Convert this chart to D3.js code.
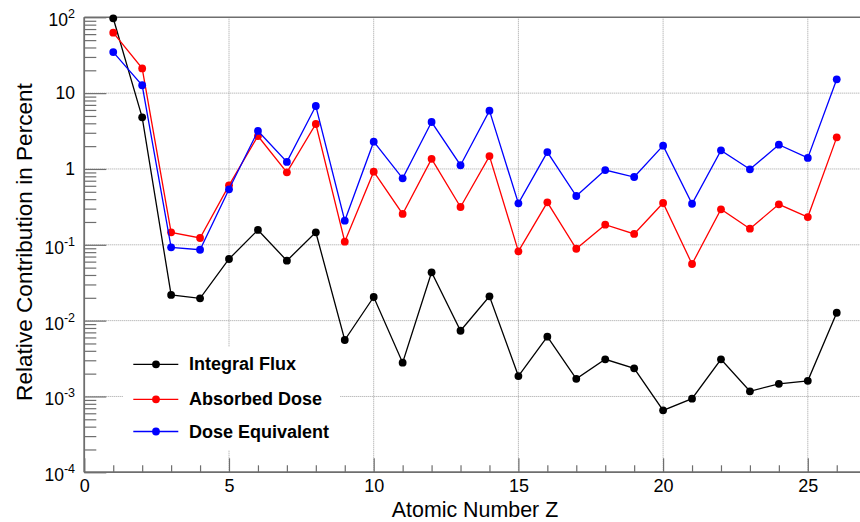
<!DOCTYPE html>
<html>
<head>
<meta charset="utf-8">
<script src="https://cdn.jsdelivr.net/npm/d3@7"></script>
<style>
  html, body { margin: 0; padding: 0; background: #fff; }
  svg { display: block; font-family: "Liberation Sans", Arial, Helvetica, sans-serif; }
</style>
</head>
<body>
<svg id="chart" width="860" height="522"></svg>
<script>
// Atomic number of each element
const atomicNumbers = [1, 2, 3, 4, 5, 6, 7, 8, 9, 10, 11, 12, 13, 14, 15, 16, 17, 18, 19, 20, 21, 22, 23, 24, 25, 26];

// Relative contributions in percent, one value per element
const integralFlux = [97, 4.8, 0.0218, 0.0197, 0.065, 0.157, 0.0617, 0.146, 0.00555, 0.0205,
  0.00279, 0.0434, 0.00736, 0.0209, 0.00186, 0.00614, 0.00171, 0.00309, 0.00235, 0.000656,
  0.000935, 0.00309, 0.00117, 0.00147, 0.00161, 0.0127];
const absorbedDose = [62.7, 21.2, 0.146, 0.123, 0.608, 2.72, 0.903, 3.92, 0.110, 0.920,
  0.255, 1.36, 0.315, 1.48, 0.082, 0.363, 0.0887, 0.184, 0.139, 0.356,
  0.0558, 0.294, 0.163, 0.342, 0.232, 2.61];
const doseEquivalent = [34.8, 12.7, 0.0927, 0.0861, 0.539, 3.17, 1.24, 6.77, 0.208, 2.29,
  0.753, 4.16, 1.12, 5.87, 0.352, 1.67, 0.440, 0.968, 0.783, 2.03,
  0.348, 1.76, 0.99, 2.09, 1.40, 15.2];

const seriesNames = ["Integral Flux", "Absorbed Dose", "Dose Equivalent"];
const seriesColors = ["#000000", "#ff0000", "#0000ff"];

// Axis ticks
const xMajorTicks = [0, 5, 10, 15, 20, 25];
const xMinorTicks = [1, 2, 3, 4, 6, 7, 8, 9, 11, 12, 13, 14, 16, 17, 18, 19, 21, 22, 23, 24, 26];
const yMajorTicks = [1e-4, 1e-3, 1e-2, 1e-1, 1, 10, 100];
const yTickLabels = [["10", "-4"], ["10", "-3"], ["10", "-2"], ["10", "-1"], ["1", ""], ["10", ""], ["10", "2"]];

const svg = d3.select("#chart");
const W = 860, H = 522;
const plotLeft = 84.3, plotTop = 17.3, plotBottom = 472.3;
const unit = 28.94;

const x = d3.scaleLinear().domain([0, 27]).range([plotLeft, plotLeft + 27 * unit]);
const y = d3.scaleLog().domain([1e-4, 1e2]).range([plotBottom, plotTop]);

const yMinorTicks = [];
for (let e = -4; e < 2; e++) for (let m = 2; m <= 9; m++) yMinorTicks.push(m * Math.pow(10, e));

const gridColor = "#a0a0a0";
const axisColor = "#6e6e6e";

// Grid
const grid = svg.append("g").attr("class", "grid");
grid.selectAll("line.gx").data(xMajorTicks.filter(d => d > 0)).join("line")
  .attr("x1", d => x(d)).attr("x2", d => x(d))
  .attr("y1", plotTop).attr("y2", plotBottom)
  .attr("stroke", gridColor).attr("stroke-width", 1).attr("stroke-dasharray", "1,1");
grid.selectAll("line.gy").data(yMajorTicks.filter(d => d > 1e-4 && d < 100)).join("line")
  .attr("x1", plotLeft).attr("x2", W)
  .attr("y1", d => y(d)).attr("y2", d => y(d))
  .attr("stroke", gridColor).attr("stroke-width", 1).attr("stroke-dasharray", "1,1");

// Frame top line
svg.append("line").attr("x1", plotLeft).attr("x2", W).attr("y1", plotTop).attr("y2", plotTop)
  .attr("stroke", axisColor).attr("stroke-width", 1.5);

// X axis: major ticks with labels, minor ticks without
const xAxisG = svg.append("g").attr("transform", `translate(0,${plotBottom})`);
xAxisG.call(d3.axisBottom(x).tickValues(xMajorTicks).tickSize(-14).tickPadding(7).tickFormat(d3.format("d")));
const xMinorG = svg.append("g").attr("transform", `translate(0,${plotBottom})`);
xMinorG.call(d3.axisBottom(x).tickValues(xMinorTicks).tickSize(-7).tickFormat(""));
[xAxisG, xMinorG].forEach(g => {
  g.select(".domain").attr("stroke", axisColor).attr("stroke-width", 1.5).attr("d", `M${plotLeft},0H${W}`);
  g.selectAll(".tick line").attr("stroke", axisColor).attr("stroke-width", 1.2);
});
xAxisG.selectAll(".tick text")
  .attr("font-size", 18).attr("fill", "#000")
  .attr("font-family", "'Liberation Sans', Arial, sans-serif");

// Y axis: log scale, major and minor ticks pointing inward
const yAxisG = svg.append("g").attr("transform", `translate(${plotLeft},0)`);
yAxisG.call(d3.axisLeft(y).tickValues(yMajorTicks).tickSize(-22).tickFormat(""));
const yMinorG = svg.append("g").attr("transform", `translate(${plotLeft},0)`);
yMinorG.call(d3.axisLeft(y).tickValues(yMinorTicks).tickSize(-12).tickFormat(""));
[yAxisG, yMinorG].forEach(g => {
  g.select(".domain").attr("stroke", axisColor).attr("stroke-width", 1.5).attr("d", `M0,${plotBottom}V${plotTop}`);
  g.selectAll(".tick line").attr("stroke", axisColor).attr("stroke-width", 1.2);
});

// Y tick labels as powers of ten
const yLab = svg.append("g").attr("font-size", 17.5).attr("fill", "#000");
yMajorTicks.forEach((v, i) => {
  const [base, exp] = yTickLabels[i];
  const t = yLab.append("text")
    .attr("x", 75).attr("y", y(v) + (exp ? 9 : 6))
    .attr("text-anchor", "end");
  t.append("tspan").text(base);
  if (exp) t.append("tspan").attr("font-size", 12.5).attr("dy", -8).text(exp);
});

// Axis titles
svg.append("text")
  .attr("x", 475).attr("y", 516.5)
  .attr("text-anchor", "middle").attr("font-size", 21.4).attr("fill", "#000")
  .text("Atomic Number Z");
svg.append("text")
  .attr("transform", `translate(31.5,242) rotate(-90)`)
  .attr("text-anchor", "middle").attr("font-size", 22.6).attr("fill", "#000")
  .text("Relative Contribution in Percent");

// Series
const allSeries = [integralFlux, absorbedDose, doseEquivalent];
const line = d3.line().x(d => x(d[0])).y(d => y(d[1]));
const plot = svg.append("g");
allSeries.forEach((vals, i) => {
  const pts = atomicNumbers.map((z, k) => [z, vals[k]]);
  plot.append("path").datum(pts)
    .attr("d", line).attr("fill", "none")
    .attr("stroke", seriesColors[i]).attr("stroke-width", 1.3);
  plot.append("g").selectAll("circle").data(pts).join("circle")
    .attr("cx", d => x(d[0])).attr("cy", d => y(d[1])).attr("r", 3.9)
    .attr("fill", seriesColors[i]);
});

// Legend
const legend = svg.append("g");
legend.append("rect").attr("x", 123).attr("y", 347).attr("width", 217).attr("height", 103).attr("fill", "#fff");
const legendRows = [364.3, 399.3, 431.5];
seriesNames.forEach((name, i) => {
  const ry = legendRows[i];
  legend.append("line").attr("x1", 133.3).attr("x2", 178.3).attr("y1", ry).attr("y2", ry)
    .attr("stroke", seriesColors[i]).attr("stroke-width", 1.3);
  legend.append("circle").attr("cx", 156).attr("cy", ry).attr("r", 3.9).attr("fill", seriesColors[i]);
  legend.append("text").attr("x", 189).attr("y", ry + 6)
    .attr("font-size", 18).attr("font-weight", "bold").attr("fill", "#000")
    .text(name);
});
</script>
</body>
</html>
